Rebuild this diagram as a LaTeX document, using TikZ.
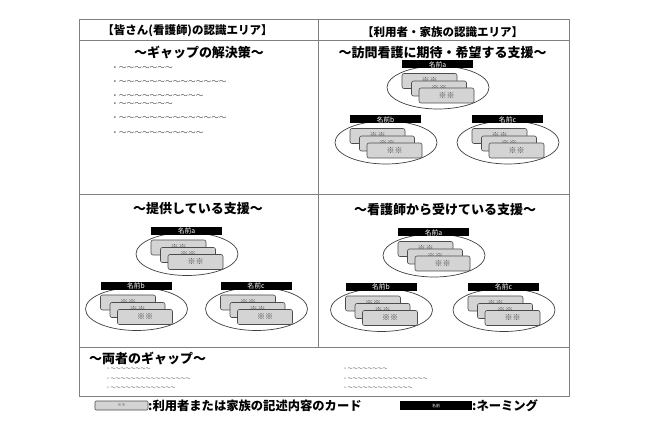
\documentclass[tikz,border=0pt]{standalone}
\usepackage{fontspec}
\setmainfont{Noto Sans CJK JP}
\usetikzlibrary{shapes.geometric}
\newcommand\fs[1]{\fontsize{#1}{#1}\selectfont}
\tikzset{
  frameline/.style={draw=black!50, line width=0.9pt},
  ellipsebox/.style={ellipse, draw=black!75, line width=0.7pt, fill=white, minimum width=102pt, minimum height=43pt, inner sep=0pt},
  namebar/.style={rectangle, fill=black, text=white, minimum width=71pt, minimum height=8pt, inner sep=0pt, font=\fs{6.8}},
  card/.style={rectangle, rounded corners=2pt, draw=black!70, line width=0.6pt, fill=black!17, text=black!75, minimum width=55pt, minimum height=15pt, inner sep=0pt, font=\fs{8}},
  headtext/.style={font=\bfseries\fs{11.5}, inner sep=0pt},
  titletext/.style={font=\bfseries\fs{13}, inner sep=0pt},
  bigwave/.style={anchor=west, inner sep=0pt, text=black!70, font=\fs{7.7}},
  smallwave/.style={anchor=west, inner sep=0pt, text=black!70, font=\fs{5}},
  legendtext/.style={anchor=west, inner sep=0pt, font=\bfseries\fs{12.3}}
}
\newcommand\grp[4]{%
  \node[ellipsebox] (#1e) at (#2+0.5,#3+23) {};
  \node[namebar] (#1n) at (#2,#3) {#4};
  \node[card] (#1ca) at (#2-8,#3+16.5) {※※};
  \node[card] (#1cb) at (#2+1.5,#3+24) {※※};
  \node[card] (#1cc) at (#2+9,#3+31) {※※};
}
\begin{document}
\begin{tikzpicture}[x=1pt,y=-1pt]
\useasboundingbox (0,0) rectangle (649,433);
% frame
\coordinate (TL) at (79,19);
\coordinate (BR) at (569,396);
\draw[frameline] (TL) rectangle (BR);
\coordinate (h1) at (79,40); \coordinate (h2) at (569,40);
\coordinate (m1) at (79,194); \coordinate (m2) at (569,194);
\coordinate (b1) at (79,347); \coordinate (b2) at (569,347);
\coordinate (v1) at (318,19); \coordinate (v2) at (318,347);
\draw[frameline] (h1) -- (h2);
\draw[frameline] (m1) -- (m2);
\draw[frameline] (b1) -- (b2);
\draw[frameline] (v1) -- (v2);
% headers
\node[headtext] (hl) at (187.5,31) {【皆さん(看護師)の認識エリア】};
\node[headtext] (hr) at (442.5,32) {【利用者・家族の認識エリア】};
% titles
\node[titletext] (tl) at (199,53) {～ギャップの解決策～};
\node[titletext] (tr) at (442.5,53) {～訪問看護に期待・希望する支援～};
\node[titletext] (bl) at (198,209) {～提供している支援～};
\node[titletext] (br) at (445,210) {～看護師から受けている支援～};
\node[titletext, anchor=west] (gt) at (89,359) {～両者のギャップ～};
% top-left bullets
\node[bigwave] (w1) at (111,69) {・～～～～～～～};
\node[bigwave] (w2) at (111,83) {・～～～～～～～～～～～～～～};
\node[bigwave] (w3) at (111,97) {・～～～～～～～～～～～};
\node[bigwave] (w4) at (111,105) {・～～～～～～～};
\node[bigwave] (w5) at (111,119) {・～～～～～～～～～～～～～～};
\node[bigwave] (w6) at (111,134) {・～～～～～～～～～～～};
% bottom bullets
\node[smallwave] (s1) at (105.5,369) {・～～～～～～～～};
\node[smallwave] (s2) at (105.5,379) {・～～～～～～～～～～～～～～～～};
\node[smallwave] (s3) at (105.5,388) {・～～～～～～～～～～～～～};
\node[smallwave] (s4) at (342.5,369) {・～～～～～～～～};
\node[smallwave] (s5) at (342.5,379) {・～～～～～～～～～～～～～～～～};
\node[smallwave] (s6) at (342.5,388) {・～～～～～～～～～～～～～};
% groups
\grp{tra}{437.5}{64.5}{名前a}
\grp{trb}{385.5}{119.5}{名前b}
\grp{trc}{507.5}{119.5}{名前c}
\grp{bla}{186.5}{231}{名前a}
\grp{blb}{136}{286}{名前b}
\grp{blc}{256}{286}{名前c}
\grp{bra}{433.5}{232.5}{名前a}
\grp{brb}{381}{287}{名前b}
\grp{brc}{503.5}{287}{名前c}
% legend
\node[card, minimum width=53pt, minimum height=9pt, rounded corners=1pt, font=\fs{4}] (lc) at (121.5,405.5) {※※};
\node[legendtext] (lct) at (148,405.5) {:利用者または家族の記述内容のカード};
\node[namebar, minimum width=72pt, minimum height=9pt, font=\fs{4}] (ln) at (436,405.5) {名前};
\node[legendtext] (lnt) at (472,405.5) {:ネーミング};
\end{tikzpicture}
\end{document}
